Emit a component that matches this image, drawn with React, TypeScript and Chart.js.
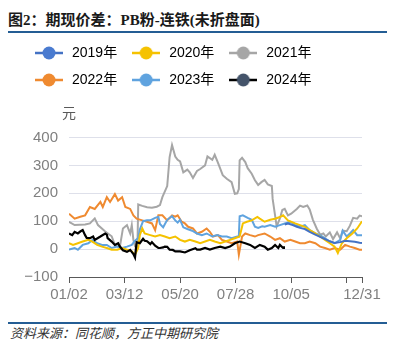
import React, { useEffect, useRef } from 'react';
import { Chart, registerables } from 'chart.js';

Chart.register(...registerables);

const seriesNames = ['2019年', '2020年', '2021年', '2022年', '2023年', '2024年'];
const lineColors = ['#4472C4', '#F5C200', '#A6A6A6', '#EF8A30', '#5FA3DF', '#000000'];
const legendDotColors = ['#4A7BD0', '#F5C200', '#A6A6A6', '#EF8A30', '#5FA3DF', '#44546A'];
const drawOrder = [1, 2, 5, 4, 3, 0];

const tickDays = [0, 69, 138, 207, 276, 345, 364];
const tickLabels = ['01/02', '03/12', '05/20', '07/28', '10/05', '', '12/31'];

const days2019 = [268, 272, 278, 283, 287, 293, 299, 306, 312, 318, 324, 330, 337, 343, 349, 355, 361, 364];
const vals2019 = [88, 92, 86, 80, 76, 72, 62, 52, 44, 36, 28, 22, 25, 30, 28, 26, 23, 22];

const days2020 = [0, 5, 11, 17, 24, 29, 35, 41, 47, 53, 60, 66, 72, 78, 82, 86, 88, 91, 94, 101, 107, 113, 119, 125, 132, 138, 144, 150, 157, 163, 169, 175, 181, 188, 194, 200, 206, 212, 216, 221, 227, 234, 237, 243, 250, 256, 262, 266, 272, 281, 287, 293, 299, 306, 312, 318, 324, 330, 334, 339, 345, 352, 358, 364];
const vals2020 = [21, 15, 21, 27, 33, 27, 15, 9, 4, -2, -2, 4, -2, -8, -20, 4, 50, 74, 56, 50, 45, 50, 45, 39, 45, 33, 27, 33, 27, 21, 27, 33, 27, 21, 27, 33, 39, 45, 92, 98, 103, 115, 109, 98, 105, 109, 115, 121, 103, 92, 86, 80, 68, 56, 45, 33, 21, 9, -14, 21, 39, 56, 74, 100];

const days2021 = [0, 7, 20, 26, 32, 36, 45, 53, 57, 61, 63, 67, 72, 76, 78, 80, 82, 85, 86, 91, 97, 103, 109, 113, 116, 122, 125, 128, 132, 135, 138, 142, 147, 150, 154, 159, 163, 169, 172, 178, 181, 185, 191, 196, 202, 206, 209, 211, 212, 215, 219, 222, 227, 231, 235, 239, 243, 247, 252, 253, 256, 258, 262, 265, 268, 272, 276, 283, 287, 291, 296, 299, 303, 308, 312, 316, 319, 324, 328, 333, 337, 340, 345, 349, 353, 358, 361, 364];
const vals2021 = [98, 86, 88, 92, 110, 86, 63, 46, 15, 8, 5, 74, 86, 56, 86, 33, 10, 5, 160, 155, 150, 148, 152, 158, 186, 226, 330, 373, 332, 320, 314, 275, 285, 275, 255, 280, 287, 300, 332, 320, 338, 310, 265, 252, 240, 198, 200, 215, 318, 327, 312, 290, 270, 247, 230, 240, 248, 232, 226, 180, 121, 81, 110, 140, 144, 121, 127, 144, 156, 151, 156, 142, 105, 72, 52, 56, 45, 60, 36, 60, 38, 66, 64, 84, 112, 109, 120, 118];

const days2022 = [0, 7, 14, 20, 26, 32, 39, 42, 47, 51, 57, 61, 66, 70, 76, 80, 84, 91, 97, 103, 107, 111, 116, 122, 128, 132, 135, 140, 144, 148, 154, 159, 165, 171, 175, 179, 185, 190, 196, 202, 209, 211, 215, 219, 225, 231, 235, 243, 250, 256, 262, 268, 275, 281, 287, 293, 299, 306, 312, 318, 324, 330, 337, 343, 349, 355, 361, 364];
const vals2022 = [127, 109, 116, 121, 151, 144, 169, 151, 186, 169, 197, 174, 186, 151, 144, 121, 109, 103, 98, 92, 68, 121, 121, 103, 121, 116, 121, 98, 92, 80, 74, 56, 62, 74, 62, 45, 50, 33, 27, 21, 27, -20, 45, 56, 50, 45, 50, 56, 45, 33, 39, 27, 33, 27, 21, 21, 27, 21, 9, 4, -2, 4, -2, 15, 9, 4, -2, -2];

const days2023 = [0, 7, 11, 17, 24, 29, 35, 41, 47, 53, 60, 66, 72, 78, 82, 86, 88, 92, 97, 101, 107, 111, 113, 117, 122, 128, 132, 135, 138, 142, 147, 153, 159, 165, 171, 178, 184, 190, 196, 202, 209, 211, 212, 216, 222, 227, 231, 235, 240, 243, 250, 256, 262, 268, 275, 281, 287, 293, 299, 306, 312, 318, 324, 330, 337, 340, 345, 349, 353, 358, 364];
const vals2023 = [-2, 4, -2, 15, 21, 33, 21, 15, 15, 4, 9, 4, 9, 15, 30, 40, 70, 100, 103, 103, 112, 116, 90, 78, 105, 118, 103, 95, 105, 78, 72, 66, 56, 50, 56, 45, 50, 45, 45, 39, 45, 45, 118, 121, 112, 105, 80, 76, 82, 80, 86, 80, 86, 92, 98, 86, 80, 86, 68, 56, 50, 39, 27, 21, 33, 66, 45, 56, 68, 50, 50];

const days2024 = [0, 4, 7, 11, 14, 17, 20, 22, 26, 30, 32, 39, 45, 47, 48, 53, 57, 61, 63, 67, 72, 76, 80, 82, 84, 88, 92, 94, 97, 101, 103, 107, 111, 113, 117, 119, 122, 125, 129, 132, 138, 144, 150, 157, 159, 163, 169, 175, 181, 188, 194, 200, 206, 212, 219, 225, 231, 237, 243, 247, 252, 256, 260, 262, 266, 267];
const vals2024 = [56, 50, 62, 56, 63, 68, 50, 40, 39, 45, 33, 45, 56, 52, 39, 27, 15, 21, 10, -4, -10, -3, -18, -30, 25, 21, 37, 30, 28, 18, 25, 12, 4, 4, 6, 9, 8, -2, -3, -8, -8, -12, -4, 3, -2, -2, 4, -2, 4, 9, 4, 9, 21, 27, 21, 15, 4, 15, 9, -2, 4, 15, 4, 15, 4, 10];

const seriesDays = [days2019, days2020, days2021, days2022, days2023, days2024];
const seriesVals = [vals2019, vals2020, vals2021, vals2022, vals2023, vals2024];

const FONT = "'Liberation Sans', 'Noto Sans CJK SC', sans-serif";

function legendIcon(line: string, dot: string) {
  const c = document.createElement('canvas');
  c.width = 28;
  c.height = 14;
  const g = c.getContext('2d')!;
  g.strokeStyle = line;
  g.lineWidth = 2.5;
  g.beginPath();
  g.moveTo(0, 7);
  g.lineTo(28, 7);
  g.stroke();
  g.fillStyle = dot;
  g.beginPath();
  g.arc(14, 7, 6.5, 0, Math.PI * 2);
  g.fill();
  return c;
}

const unitLabel = {
  id: 'unitLabel',
  afterDraw(chart: any) {
    const { ctx, chartArea } = chart;
    ctx.save();
    ctx.font = "14px 'Noto Sans CJK SC', sans-serif";
    ctx.fillStyle = '#595959';
    ctx.textAlign = 'center';
    ctx.textBaseline = 'middle';
    ctx.fillText('元', chartArea.left, chartArea.top - 25);
    ctx.restore();
  },
};

export default function App() {
  const ref = useRef<HTMLCanvasElement | null>(null);

  useEffect(() => {
    document.body.style.overflow = 'hidden';
    if (!ref.current) return;
    const icons = seriesNames.map((_, i) => legendIcon(lineColors[i], legendDotColors[i]));
    const datasets = seriesNames.map((name, i) => ({
      label: name,
      data: seriesDays[i].map((d, j) => ({ x: d, y: seriesVals[i][j] })),
      borderColor: lineColors[i],
      backgroundColor: lineColors[i],
      borderWidth: i === 5 ? 2.2 : 2,
      pointRadius: 0,
      tension: 0,
      order: drawOrder[i],
    }));
    const chart = new Chart(ref.current, {
      type: 'line',
      data: { datasets },
      plugins: [unitLabel],
      options: {
        animation: false,
        responsive: false,
        layout: { padding: { left: 12, right: 25, top: 0, bottom: 0 } },
        plugins: {
          tooltip: { enabled: false },
          title: {
            display: true,
            text: '',
            position: 'top',
            weight: 500,
            padding: { top: 24.5, bottom: 0 },
            font: { size: 14, lineHeight: '16px' as any },
          },
          legend: {
            display: true,
            position: 'top',
            align: 'start',
            labels: {
              usePointStyle: true,
              pointStyleWidth: 32,
              padding: 13,
              color: '#404040',
              font: { size: 14, family: FONT },
              generateLabels: () =>
                seriesNames.map((name, i) => ({
                  text: name,
                  fillStyle: legendDotColors[i],
                  strokeStyle: lineColors[i],
                  lineWidth: 0,
                  pointStyle: icons[i] as any,
                  hidden: false,
                  datasetIndex: i,
                })),
            },
          },
        },
        scales: {
          x: {
            type: 'linear',
            min: 0,
            max: 364,
            afterBuildTicks: (scale: any) => {
              scale.ticks = tickDays.map((v) => ({ value: v }));
            },
            ticks: {
              autoSkip: false,
              maxRotation: 0,
              padding: 3,
              color: '#808080',
              font: { size: 15, family: FONT },
              callback: (v: any) => {
                const k = tickDays.indexOf(Number(v));
                return k >= 0 ? tickLabels[k] : '';
              },
            },
            grid: { display: true, drawOnChartArea: false, drawTicks: true, tickLength: 6, color: '#595959' },
            border: { display: true, color: '#595959', width: 1 },
          },
          y: {
            min: -100,
            max: 400,
            afterFit: (scale: any) => {
              scale.width = 49;
            },
            ticks: {
              stepSize: 100,
              padding: 11,
              color: '#808080',
              font: { size: 15, family: FONT },
              callback: (v: any) => (Number(v) < 0 ? '\u2212' + Math.abs(Number(v)) : String(v)),
            },
            grid: { color: '#DEE0EA', drawTicks: false, lineWidth: 1 },
            border: { display: false },
          },
        },
      },
    });
    return () => chart.destroy();
  }, []);

  const lineStyle: React.CSSProperties = { position: 'absolute', left: 0, width: 387, height: 2, background: '#245D94' };

  return (
    <div style={{ position: 'relative', width: 387, height: 335, overflow: 'hidden' }}>
      <div
        style={{
          position: 'absolute',
          left: 0,
          top: 2,
          height: 20,
          lineHeight: '20px',
          fontSize: 15,
          fontWeight: 700,
          color: '#1A1A1A',
          whiteSpace: 'nowrap',
          fontFamily: "'Liberation Serif', 'Noto Sans CJK SC', serif",
        }}
      >
        图2：期现价差：PB粉-连铁(未折盘面)
      </div>
      <div
        style={{
          position: 'absolute',
          left: 380,
          top: 2,
          lineHeight: '20px',
          fontSize: 15,
          fontWeight: 700,
          color: '#1A1A1A',
          whiteSpace: 'nowrap',
          fontFamily: "'Noto Sans CJK SC', serif",
        }}
      >
        图
      </div>
      <div style={{ ...lineStyle, top: 23 }} />
      <div style={{ position: 'absolute', left: 0, top: 25, width: 379, height: 274 }}>
        <canvas ref={ref} width={379} height={274} style={{ display: 'block' }} />
      </div>
      <div style={{ ...lineStyle, top: 314 }} />
      <div
        style={{
          position: 'absolute',
          left: 2,
          top: 317,
          lineHeight: '16px',
          fontSize: 13,
          fontStyle: 'italic',
          color: '#333333',
          whiteSpace: 'nowrap',
          fontFamily: "'Noto Sans CJK SC', sans-serif",
        }}
      >
        资料来源：同花顺，方正中期研究院
      </div>
      <div
        style={{
          position: 'absolute',
          left: 380,
          top: 317,
          lineHeight: '16px',
          fontSize: 13,
          fontStyle: 'italic',
          color: '#333333',
          whiteSpace: 'nowrap',
          fontFamily: "'Noto Sans CJK SC', sans-serif",
        }}
      >
        资
      </div>
    </div>
  );
}
